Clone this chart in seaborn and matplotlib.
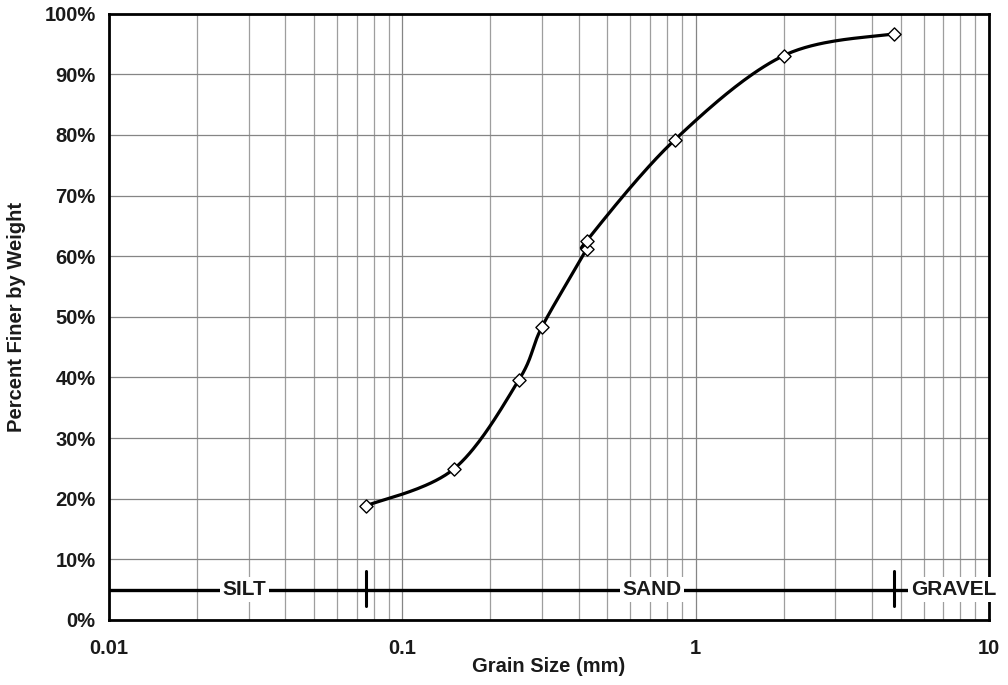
import numpy as np
import pandas as pd
import matplotlib
matplotlib.use("Agg")
import matplotlib.pyplot as plt
import seaborn as sns

# --- Sieve data (grain size in mm, percent finer) ---
grain_size_mm = [0.075, 0.15, 0.25, 0.30, 0.425, 0.425, 0.85, 2.0, 4.75]
percent_finer = [18.8, 24.9, 39.6, 48.4, 61.2, 62.5, 79.2, 93.1, 96.7]

# soil class boundaries and labels
class_bounds_mm = [0.075, 4.75]
class_labels = ["SILT", "SAND", "GRAVEL"]
class_label_x = [0.029, 0.71, 7.6]
class_line_y = 5

y_ticks = list(range(0, 101, 10))
x_ticks = [0.01, 0.1, 1, 10]
x_ticklabels = ["0.01", "0.1", "1", "10"]


def smooth_curve(xs, ys, n=40):
    # Catmull-Rom in log-x space (same idea as a spreadsheet "smoothed line")
    u = np.log10(np.asarray(xs, float)) / 3.0
    v = np.asarray(ys, float) / 100.0
    P = np.column_stack([u, v])
    P = np.vstack([P[0], P, P[-1]])
    out = []
    t = np.linspace(0, 1, n)[:, None]
    for i in range(1, len(P) - 2):
        p0, p1, p2, p3 = P[i - 1], P[i], P[i + 1], P[i + 2]
        c1 = p1 + (p2 - p0) / 6
        c2 = p2 - (p3 - p1) / 6
        seg = ((1 - t) ** 3) * p1 + 3 * ((1 - t) ** 2) * t * c1 + 3 * (1 - t) * t ** 2 * c2 + t ** 3 * p2
        out.append(seg)
    out = np.vstack(out)
    return 10 ** (out[:, 0] * 3.0), out[:, 1] * 100


sns.set_style("white")
plt.rcParams['font.family'] = ['Liberation Sans', 'DejaVu Sans']
plt.rcParams['font.weight'] = 'bold'

fig = plt.figure(figsize=(10.08, 6.85), dpi=100)
ax = fig.add_axes([0.108, 0.095, 0.873, 0.885])

sx, sy = smooth_curve(grain_size_mm, percent_finer)
curve = pd.DataFrame({"size": sx, "finer": sy})
pts = pd.DataFrame({"size": grain_size_mm, "finer": percent_finer})

sns.lineplot(data=curve, x="size", y="finer", sort=False, color="black", linewidth=2.3,
             ax=ax, zorder=4)
sns.scatterplot(data=pts, x="size", y="finer", marker="D", s=45, facecolor="white",
                edgecolor="black", linewidth=1.0, ax=ax, zorder=5)

ax.set_xscale("log")
ax.set_xlim(0.01, 10)
ax.set_ylim(0, 100)

# grid
ax.grid(True, which="major", axis="both", color="#858585", linewidth=0.9)
ax.grid(True, which="minor", axis="x", color="#9e9e9e", linewidth=0.9)
ax.set_axisbelow(True)

# classification line
ax.plot([0.01, 10], [class_line_y, class_line_y], color="black", linewidth=2.4, zorder=3)
for b in class_bounds_mm:
    ax.plot([b, b], [2.3, 8.0], color="black", linewidth=2.2, zorder=3)
for lx, lab in zip(class_label_x, class_labels):
    ax.text(lx, class_line_y, lab, ha="center", va="center", fontsize=15, fontweight="bold",
            color="#1a1a1a", zorder=4,
            bbox=dict(facecolor="white", edgecolor="none", pad=2.0))

ax.set_yticks(y_ticks)
ax.set_yticklabels([f"{t}%" for t in y_ticks])
ax.set_xticks(x_ticks)
ax.set_xticklabels(x_ticklabels)
ax.xaxis.set_minor_locator(matplotlib.ticker.LogLocator(base=10, subs=np.arange(2, 10)))
ax.xaxis.set_minor_formatter(matplotlib.ticker.NullFormatter())

ax.tick_params(axis="y", which="major", direction="inout", length=11, width=1.8,
               labelsize=14.5, pad=4, colors="black", labelcolor="#1a1a1a")
ax.tick_params(axis="x", which="major", direction="inout", length=12, width=1.8,
               labelsize=14.5, pad=8, colors="black", labelcolor="#1a1a1a")
ax.tick_params(axis="x", which="minor", direction="out", length=5, width=1.5, colors="black")

for s in ax.spines.values():
    s.set_linewidth(2.0)
    s.set_color("black")
    s.set_visible(True)

ax.set_xlabel("Grain Size (mm)", fontsize=14.5, fontweight="bold", color="#1a1a1a", labelpad=-1)
ax.set_ylabel("Percent Finer by Weight", fontsize=14.5, fontweight="bold", color="#1a1a1a", labelpad=13)

fig.savefig("out.png", dpi=100)
